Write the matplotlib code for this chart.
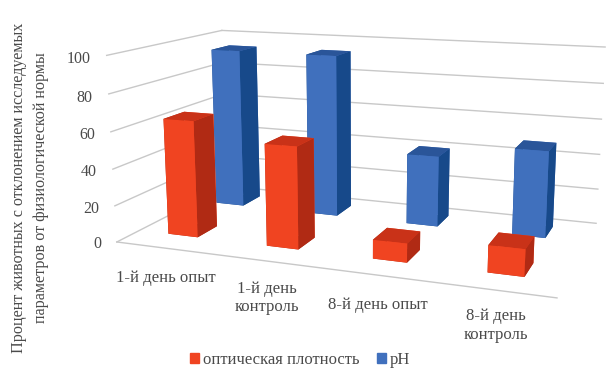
import numpy as np
import matplotlib
matplotlib.use('Agg')
import matplotlib.pyplot as plt
from matplotlib.patches import Patch
from mpl_toolkits.mplot3d import proj3d

plt.rcParams['font.family'] = 'Liberation Serif'

groups = ['1-й день опыт', '1-й день\nконтроль', '8-й день опыт', '8-й день\nконтроль']
density = [64, 55, 10, 14]
ph = [93, 93, 40, 48]
yticks = [0, 20, 40, 60, 80, 100]

# face order of bar3d: bottom, top, front, back, left, right
red_faces = ['#b02a14', '#c93218', '#f04421', '#f04421', '#b02a14', '#b02a14']
blue_faces = ['#17498a', '#2a5599', '#4070bd', '#4070bd', '#17498a', '#17498a']
grid_color = '#c8c8c8'
text_color = '#4a4a4a'

W, H = 614, 370
fig = plt.figure(figsize=(W / 100, H / 100), dpi=100)
ax = fig.add_axes([0.2, 0.0, H / W, 1.0], projection='3d')
ax.set_xlim(0, 4, view_margin=0)
ax.set_ylim(0, 2, view_margin=0)
ax.set_zlim(0, 100, view_margin=0)

# camera
ax.view_init(elev=12.535, azim=-69.512)
ax.set_proj_type('persp', focal_length=0.3734)
ax.set_box_aspect((2.3443, 1.2395, 1))
S, cx, cy = 2761.02, 363.50, 143.49
vl = ax.viewLim
L = S * vl.width
ax.set_position([(cx + S * vl.x0) / W, (H - cy + S * vl.y0) / H, L / W, L / H])
ax.set_xticks([])
ax.set_yticks([])
ax.set_zticks([])
ax.set_axis_off()
ax.computed_zorder = False


def label3d(x3, y3, z3, s, **kw):
    # flat figure text at the projected point of the box
    u, v, _ = proj3d.proj_transform(x3, y3, z3, ax.get_proj())
    px, py = ax.transData.transform((u, v))
    fig.text(px / W, py / H, s, color=text_color, **kw)


x = np.arange(4)
for z in yticks:
    ax.plot([0, 4], [2, 2], [z, z], color=grid_color, lw=1, zorder=1)
    ax.plot([0, 0], [0, 2], [z, z], color=grid_color, lw=1, zorder=1)
    label3d(-0.17, 0, z - 2.5, str(z), ha='right', va='center', fontsize=11.5)
ax.plot([0, 4], [0, 0], [0, 0], color=grid_color, lw=1, zorder=1)

ax.bar3d(0.22 + 1.033 * x, np.full(4, 1.40), np.zeros(4), 0.31, 0.36, ph,
         color=blue_faces * 4, shade=False, zorder=2)
ax.bar3d(0.31 + 1.015 * x, np.full(4, 0.36), np.zeros(4), 0.31, 0.35, density,
         color=red_faces * 4, shade=False, zorder=3)

label_x = [0.5, 1.5, 2.52, 3.52]
label_z = [-12, -10.5, -11, -9]
for i, g in enumerate(groups):
    label3d(label_x[i], 0, label_z[i], g, ha='center', va='top', fontsize=12)

fig.text(30 / W, 1 - 187.5 / H, 'Процент животных с отклонением исследуемых\nпараметров от физиологической нормы',
         rotation=90, ha='center', va='center', fontsize=11.6, linespacing=1.5, color=text_color)

handles = [Patch(color=red_faces[2], label='оптическая плотность'), Patch(color=blue_faces[2], label='pH')]
fig.legend(handles=handles, loc='lower left', bbox_to_anchor=(190 / W, 2 / H), ncol=2, frameon=False,
           fontsize=12, labelcolor=text_color, handlelength=0.55, handleheight=0.55, handletextpad=0.25,
           columnspacing=1.0, borderpad=0, borderaxespad=0)

fig.savefig('out.png', dpi=100)
